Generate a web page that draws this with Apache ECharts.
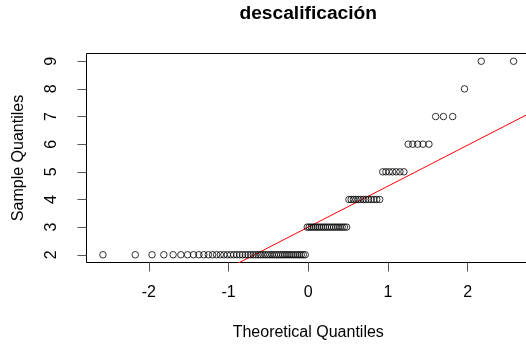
<!DOCTYPE html>
<html>
<head>
<meta charset="utf-8">
<script src="https://cdn.jsdelivr.net/npm/echarts@6/dist/echarts.min.js"></script>
<style>
  html, body { margin: 0; padding: 0; background: #fff; overflow: hidden; }
  /* the plot box runs slightly past the right edge of the window */
  #chart { width: 540px; height: 347px; }
</style>
</head>
<body>
<div id="chart"></div>
<script>
// Observed values of "descalificación" and how many times each occurs
const levels = [2, 3, 4, 5, 6, 7, 8, 9];
const counts = [49, 20, 13, 7, 5, 3, 1, 2];

const xTicks = [-2, -1, 0, 1, 2];
const yTicks = [2, 3, 4, 5, 6, 7, 8, 9];

const FONT = '"Liberation Sans", Arial, sans-serif';

// Sorted sample
const sample = [];
levels.forEach((v, k) => { for (let j = 0; j < counts[k]; j++) sample.push(v); });
const n = sample.length;

// Inverse of the standard normal CDF (Acklam)
function qnorm(p) {
  const a = [-3.969683028665376e+01, 2.209460984245205e+02, -2.759285104469687e+02,
             1.383577518672690e+02, -3.066479806614716e+01, 2.506628277459239e+00];
  const b = [-5.447609879822406e+01, 1.615858368580409e+02, -1.556989798598866e+02,
             6.680131188771972e+01, -1.328068155288572e+01];
  const c = [-7.784894002430293e-03, -3.223964580411365e-01, -2.400758277161838e+00,
             -2.549732539343734e+00, 4.374664141464968e+00, 2.938163982698783e+00];
  const d = [7.784695709041462e-03, 3.224671290700398e-01, 2.445134137142996e+00,
             3.754408661907416e+00];
  const pl = 0.02425, ph = 1 - pl;
  let q, r;
  if (p < pl) {
    q = Math.sqrt(-2 * Math.log(p));
    return (((((c[0]*q+c[1])*q+c[2])*q+c[3])*q+c[4])*q+c[5]) /
           ((((d[0]*q+d[1])*q+d[2])*q+d[3])*q+1);
  }
  if (p <= ph) {
    q = p - 0.5; r = q * q;
    return (((((a[0]*r+a[1])*r+a[2])*r+a[3])*r+a[4])*r+a[5])*q /
           (((((b[0]*r+b[1])*r+b[2])*r+b[3])*r+b[4])*r+1);
  }
  q = Math.sqrt(-2 * Math.log(1 - p));
  return -(((((c[0]*q+c[1])*q+c[2])*q+c[3])*q+c[4])*q+c[5]) /
          ((((d[0]*q+d[1])*q+d[2])*q+d[3])*q+1);
}

// Plotting positions (ppoints) and normal scores
const ppt = i => (n <= 10 ? (i + 1 - 3/8) / (n + 1 - 2*3/8) : (i + 0.5) / n);
const points = sample.map((v, i) => [qnorm(ppt(i)), v]);

// Reference line through the first and third quartiles (type-7 quantiles)
function quantile(sorted, p) {
  const h = (sorted.length - 1) * p;
  const lo = Math.floor(h), hi = Math.ceil(h);
  return sorted[lo] + (h - lo) * (sorted[hi] - sorted[lo]);
}
const q1 = quantile(sample, 0.25), q3 = quantile(sample, 0.75);
const slope = (q3 - q1) / (qnorm(0.75) - qnorm(0.25));
const intercept = q1 - slope * qnorm(0.25);

// Axis extents padded by 4% on each side
const xs = points.map(p => p[0]);
const xMinD = Math.min(...xs), xMaxD = Math.max(...xs);
const xPad = (xMaxD - xMinD) * 0.04;
const xMin = xMinD - xPad, xMax = xMaxD + xPad;
const yMinD = Math.min(...sample), yMaxD = Math.max(...sample);
const yPad = (yMaxD - yMinD) * 0.04;
const yMin = yMinD - yPad, yMax = yMaxD + yPad;

const refLine = [[xMin, intercept + slope * xMin], [xMax, intercept + slope * xMax]];

const GRID_LEFT = 86.5, GRID_WIDTH = 443.5;

const chart = echarts.init(document.getElementById('chart'), null, { renderer: 'canvas' });
chart.setOption({
  animation: false,
  backgroundColor: '#fff',
  graphic: [{
    type: 'text',
    left: null,
    x: GRID_LEFT + GRID_WIDTH / 2,
    y: 14,
    style: {
      text: 'descalificación',
      fontFamily: FONT, fontSize: 19.2, fontWeight: 'bold', fill: '#000',
      align: 'center', verticalAlign: 'middle'
    },
    silent: true
  }],
  grid: {
    left: GRID_LEFT, top: 53.5, width: GRID_WIDTH, height: 209,
    show: true, borderColor: '#000', borderWidth: 1, backgroundColor: 'transparent'
  },
  xAxis: {
    type: 'value', min: xMin, max: xMax,
    name: 'Theoretical Quantiles', nameLocation: 'middle', nameGap: 62,
    nameTextStyle: { fontFamily: FONT, fontSize: 16, color: '#000' },
    axisLine: { show: false, onZero: false },
    splitLine: { show: false },
    axisTick: { show: true, length: 9, inside: false, customValues: xTicks,
                lineStyle: { color: '#555', width: 1 } },
    axisLabel: { customValues: xTicks, margin: 22, fontFamily: FONT, fontSize: 16, color: '#000' }
  },
  yAxis: {
    type: 'value', min: yMin, max: yMax,
    name: 'Sample Quantiles', nameLocation: 'middle', nameGap: 60, nameRotate: 90,
    nameTextStyle: { fontFamily: FONT, fontSize: 16, color: '#000' },
    axisLine: { show: false, onZero: false },
    splitLine: { show: false },
    axisTick: { show: true, length: 9, inside: false, customValues: yTicks,
                lineStyle: { color: '#555', width: 1 } },
    axisLabel: { customValues: yTicks, rotate: 90, margin: 27, fontFamily: FONT, fontSize: 16, color: '#000' }
  },
  series: [
    {
      type: 'scatter',
      data: points,
      symbol: 'circle',
      symbolSize: 6.5,
      itemStyle: { color: 'rgba(0,0,0,0)', borderColor: '#000', borderWidth: 1 },
      emphasis: { disabled: true },
      z: 3
    },
    {
      type: 'line',
      data: refLine,
      showSymbol: false,
      clip: true,
      lineStyle: { color: '#ff0000', width: 1 },
      emphasis: { disabled: true },
      z: 2
    }
  ]
});
</script>
</body>
</html>
